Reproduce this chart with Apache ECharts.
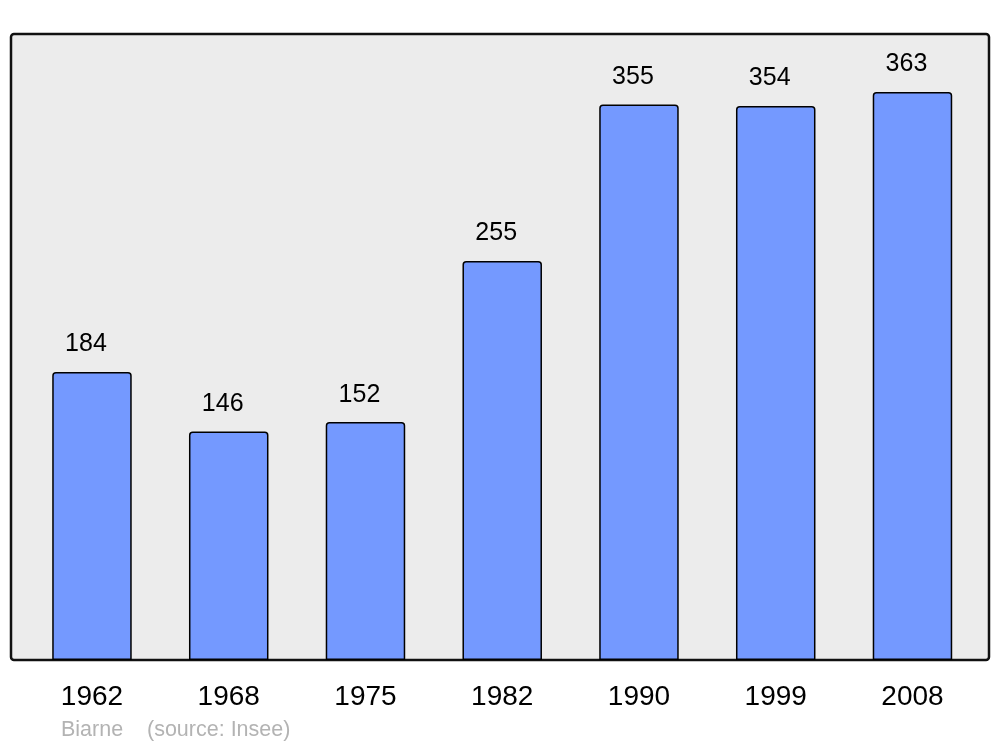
<!DOCTYPE html>
<html><head><meta charset="utf-8">
<script src="https://cdn.jsdelivr.net/npm/echarts@6/dist/echarts.min.js"></script>
<style>html,body{margin:0;padding:0;background:#fff}#c{width:1000px;height:747px}</style>
</head><body><div id="c"></div>
<script>
const years = ['1962','1968','1975','1982','1990','1999','2008'];
const population = [184,146,152,255,355,354,363];
const footerName = 'Biarne';
const footerSource = '(source: Insee)';

const chart = echarts.init(document.getElementById('c'));
chart.setOption({
  animation:false,
  backgroundColor:'#ffffff',
  grid:{left:23.6, width:957.25, top:34, bottom:87},
  xAxis:{type:'category', data:years,
    axisLine:{show:false}, axisTick:{show:false}, splitLine:{show:false},
    axisLabel:{color:'#000', fontSize:28, fontFamily:'Liberation Sans', margin:23}},
  yAxis:{type:'value', min:0, max:400, show:false, splitLine:{show:false}},
  graphic:[
    {type:'rect', z:-10, shape:{x:11,y:34,width:978,height:626,r:3},
     style:{fill:'#ececec', stroke:'#111', lineWidth:2.5}},
    {type:'text', left:61, top:719, style:{text:footerName, fill:'#b3b3b3', font:'21.5px "Liberation Sans"'}},
    {type:'text', left:147, top:719, style:{text:footerSource, fill:'#b3b3b3', font:'21.5px "Liberation Sans"'}}
  ],
  series:[{type:'bar', data:population, barWidth:79.5,
    itemStyle:{color:'#7499ff', borderColor:'#000', borderWidth:1.5, borderRadius:[3,3,0,0]},
    label:{show:true, position:'top', distance:15, offset:[-6,0], color:'#000', fontSize:25, fontFamily:'Liberation Sans'}}]
});
</script></body></html>
